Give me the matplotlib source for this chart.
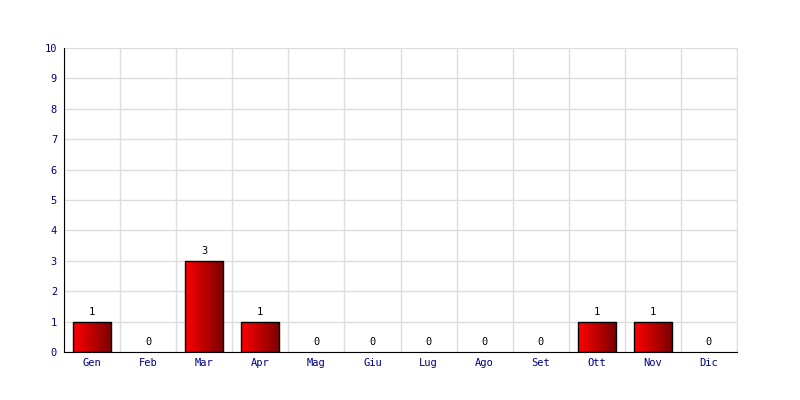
import matplotlib.pyplot as plt
import numpy as np
from matplotlib.colors import LinearSegmentedColormap

mesi = ['Gen', 'Feb', 'Mar', 'Apr', 'Mag', 'Giu', 'Lug', 'Ago', 'Set', 'Ott', 'Nov', 'Dic']
valori = [1, 0, 3, 1, 0, 0, 0, 0, 0, 1, 1, 0]

plt.rcParams['font.family'] = ['DejaVu Sans Mono']
plt.rcParams['font.size'] = 7.5

fig = plt.figure(figsize=(8, 4), dpi=100)
ax = fig.add_axes([0.08, 0.12, 0.84125, 0.76])

x = np.arange(len(mesi))
bars = ax.bar(x, valori, width=0.68, color='none', edgecolor='black', linewidth=1, zorder=3)

# gradiente rosso -> rosso scuro dentro ogni barra
grad = np.linspace(0, 1, 100).reshape(1, -1)
cmap = LinearSegmentedColormap.from_list('rosso', ['#ff0000', '#7a0000'])
for b in bars:
    h = b.get_height()
    if h <= 0:
        b.set_linewidth(0)
        continue
    x0 = b.get_x()
    im = ax.imshow(grad, cmap=cmap, aspect='auto', extent=[x0, x0 + b.get_width(), 0, h],
                   zorder=2, interpolation='bilinear')
    im.set_clip_path(b)

for xi, v in zip(x, valori):
    ax.annotate(str(v), (xi, v), xytext=(0, 3.5), textcoords='offset points',
                ha='center', va='bottom', color='black')

ax.set_xlim(-0.5, 11.5)
ax.set_ylim(0, 10)
ax.set_xticks(x)
ax.set_xticklabels(mesi)
ax.set_yticks(range(0, 11))
ax.set_xticks(np.arange(-0.5, 12, 1), minor=True)
ax.grid(which='minor', axis='x', color='#dddddd', linewidth=1, zorder=0)
ax.grid(which='major', axis='y', color='#dddddd', linewidth=1, zorder=0)
ax.set_axisbelow(True)
ax.tick_params(which='both', length=0, colors='#000080', pad=5)
ax.tick_params(axis='x', pad=4)
ax.spines['top'].set_visible(False)
ax.spines['right'].set_color('#dddddd')
ax.spines['left'].set_color('black')
ax.spines['bottom'].set_color('black')

plt.savefig('out.png', dpi=100)
